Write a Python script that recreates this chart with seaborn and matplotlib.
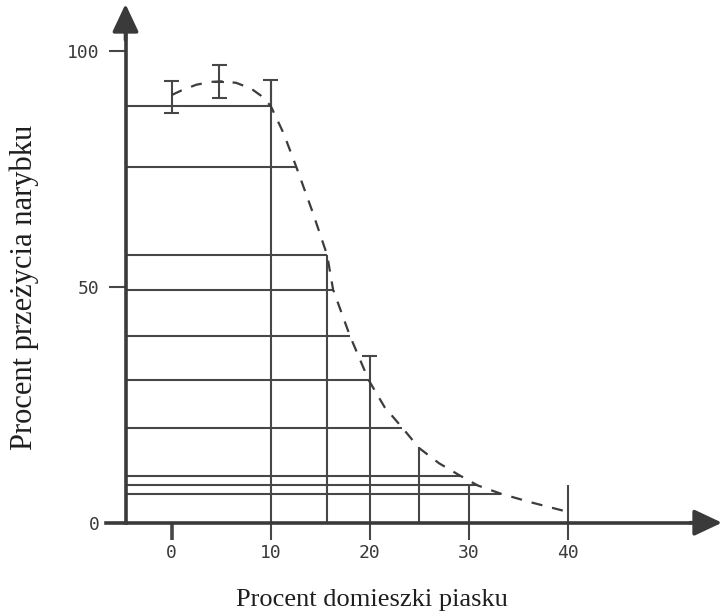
import numpy as np
import pandas as pd
import matplotlib
matplotlib.use("Agg")
import matplotlib.pyplot as plt
import seaborn as sns

# ---- data ----
# dashed survival curve
curve_x = [0, 1, 2.5, 4, 5, 6.5, 8, 9, 10, 11.3, 12.6, 14.2, 15.7, 16.3, 18.0, 19.9, 21.5, 23.3, 25.0, 27.0, 29.1, 30.9, 33.3, 36.5, 40.0]
curve_y = [90.6, 91.6, 92.8, 93.4, 93.5, 93.2, 92.0, 90.5, 88.3, 82.5, 75.3, 66.0, 56.7, 49.4, 39.6, 30.2, 24.5, 20.1, 15.8, 12.6, 10.0, 7.9, 6.1, 4.2, 2.3]

# horizontal reading lines: level and x where they meet the curve
hline_y = [88.3, 75.3, 56.7, 49.4, 39.6, 30.2, 20.1, 10.0, 7.9, 6.1]
hline_xend = [10.0, 12.6, 15.7, 16.3, 18.0, 19.9, 23.3, 29.1, 30.9, 33.3]

# vertical lines: x and top value
vline_x = [10, 15.7, 20, 25, 30, 40]
vline_top = [93.7, 56.7, 35.3, 16.1, 8.0, 8.0]

# error bars (x, low, high)
err_x = [0, 4.8, 10]
err_low = [86.7, 89.9, 88.3]
err_high = [93.6, 97.0, 93.7]
capped_low = [True, True, False]

xticks = [0, 10, 20, 30, 40]
yticks = [0, 50, 100]
xlabel = "Procent domieszki piasku"
ylabel = "Procent przeżycia narybku"

# ---- styling ----
sns.set_style("white")
plt.rcParams['font.family'] = ['DejaVu Sans']
LC = "#474747"
AX = "#3a3a3a"

W, H = 722, 616
fig = plt.figure(figsize=(W / 100, H / 100), dpi=100)
ax = fig.add_axes([0, 0, 1, 1])
ax.set_facecolor("white")

# pixel mapping: x=0 -> 171.7px, 9.9 px/unit; y=0 -> 93.3px from bottom, 4.72 px/unit
px_x, x0 = 9.9, 171.7
px_y, y0 = 4.72, 616 - 522.7
ax.set_xlim(-x0 / px_x, (W - x0) / px_x)
ax.set_ylim(-y0 / px_y, (H - y0) / px_y)

yaxis_x = (125.5 - x0) / px_x
lw_thin = 1.5

# horizontal lines from y axis to curve
ax.hlines(hline_y, [yaxis_x] * len(hline_y), hline_xend, colors=LC, lw=lw_thin, zorder=2)
# vertical lines from x axis to top
ax.vlines(vline_x, [0] * len(vline_x), vline_top, colors=LC, lw=lw_thin, zorder=2)

# error bars
cap = 0.75
for x, lo, hi, cl in zip(err_x, err_low, err_high, capped_low):
    ax.vlines(x, lo, hi, colors=LC, lw=lw_thin, zorder=3)
    ax.hlines(hi, x - cap, x + cap, colors=LC, lw=lw_thin, zorder=3)
    if cl:
        ax.hlines(lo, x - cap, x + cap, colors=LC, lw=lw_thin, zorder=3)
# cap on top of the 20 line and centre mark of middle error bar
ax.hlines(vline_top[2], vline_x[2] - cap, vline_x[2] + cap, colors=LC, lw=lw_thin, zorder=3)
ax.hlines(93.4, 4.8 - 0.5, 4.8 + 0.5, colors=LC, lw=lw_thin, zorder=3)

# dashed curve
df = pd.DataFrame({"x": curve_x, "y": curve_y})
sns.lineplot(data=df, x="x", y="y", ax=ax, color="#3c3c3c", lw=1.6, sort=False,
             estimator=None, zorder=4)
ax.lines[-1].set_dashes([5, 4.5])
ax.set_xlabel("")
ax.set_ylabel("")

# axes spines as the drawn axes
for s in ["top", "right"]:
    ax.spines[s].set_visible(False)
ax.spines["left"].set_position(("data", yaxis_x))
ax.spines["bottom"].set_position(("data", 0))
ax.spines["left"].set_bounds(0, (616 - 20 - y0) / px_y)
ax.spines["bottom"].set_bounds((106 - x0) / px_x, (700 - x0) / px_x)
for s in ["left", "bottom"]:
    ax.spines[s].set_linewidth(2.6)
    ax.spines[s].set_color(AX)
    ax.spines[s].set_zorder(5)

# arrowheads
ax.annotate("", xy=((722 - x0) / px_x, 0), xytext=((690 - x0) / px_x, 0),
            arrowprops=dict(arrowstyle="-|>,head_length=1.7,head_width=0.8",
                            color=AX, lw=2.6, shrinkA=0, shrinkB=0), annotation_clip=False)
ax.annotate("", xy=(yaxis_x, (616 - 4 - y0) / px_y), xytext=(yaxis_x, (616 - 40 - y0) / px_y),
            arrowprops=dict(arrowstyle="-|>,head_length=1.7,head_width=0.8",
                            color=AX, lw=2.6, shrinkA=0, shrinkB=0), annotation_clip=False)

# ticks
ax.set_xticks(xticks)
ax.set_xticklabels([str(t) for t in xticks])
ax.set_yticks(yticks)
ax.set_yticklabels([str(t) for t in yticks])
ax.tick_params(axis="both", direction="out", length=12.5, width=lw_thin,
               color=LC, labelcolor="#3a3a3a", labelsize=13, bottom=True, left=True)
ax.tick_params(axis="x", pad=3)
ax.tick_params(axis="y", pad=6)
ax.xaxis.get_major_ticks()[0].tick1line.set_markeredgewidth(2.6)
for lab in ax.get_xticklabels() + ax.get_yticklabels():
    lab.set_family("DejaVu Sans Mono")

# axis titles
fig.text(372 / W, 1 - 600 / H, xlabel, ha="center", va="center",
         family=["Liberation Serif"], fontsize=19, color="#1e1e1e")
fig.text(24 / W, 1 - 287 / H, ylabel, ha="center", va="center", rotation=90,
         family=["Liberation Serif"], fontsize=22, color="#1e1e1e")

fig.savefig("out.png", dpi=100, facecolor="white")
